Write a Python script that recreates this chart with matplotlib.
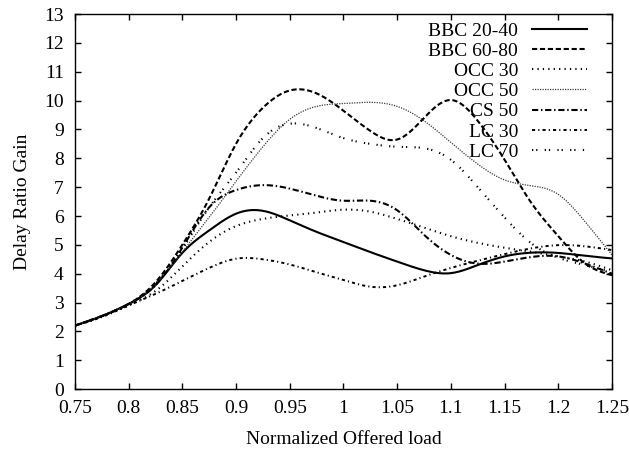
import numpy as np
import matplotlib
matplotlib.use("Agg")
import matplotlib.pyplot as plt

plt.rcParams['font.family'] = ['Liberation Serif', 'DejaVu Serif']

load = [0.75, 0.775, 0.8, 0.825, 0.85, 0.875, 0.9, 0.925, 0.95, 0.975, 1.0,
        1.025, 1.05, 1.075, 1.1, 1.125, 1.15, 1.175, 1.2, 1.225, 1.25]

bbc_20_40 = [2.2, 2.53, 2.95, 3.6, 4.72, 5.5, 6.08, 6.18, 5.85, 5.45, 5.1,
             4.75, 4.42, 4.12, 4.02, 4.3, 4.6, 4.73, 4.72, 4.62, 4.53]
bbc_60_80 = [2.2, 2.53, 2.95, 3.7, 5.0, 6.6, 8.5, 9.75, 10.35, 10.25, 9.65,
             8.95, 8.65, 9.4, 10.02, 9.3, 7.95, 6.45, 5.3, 4.35, 3.95]
occ_30 = [2.2, 2.5, 2.9, 3.4, 4.25, 5.1, 5.65, 5.9, 6.02, 6.12, 6.22,
          6.15, 5.9, 5.6, 5.3, 5.07, 4.9, 4.76, 4.6, 4.42, 4.12]
occ_50 = [2.2, 2.53, 2.95, 3.6, 4.75, 5.95, 7.2, 8.4, 9.35, 9.8, 9.9,
          9.94, 9.8, 9.3, 8.55, 7.8, 7.25, 7.05, 6.75, 5.8, 4.65]
cs_50 = [2.2, 2.53, 2.95, 3.6, 4.9, 6.3, 6.9, 7.07, 6.95, 6.7, 6.53,
         6.53, 6.2, 5.35, 4.65, 4.35, 4.42, 4.58, 4.6, 4.35, 4.0]
lc_30 = [2.2, 2.5, 2.9, 3.3, 3.75, 4.2, 4.52, 4.5, 4.32, 4.05, 3.78,
         3.55, 3.6, 3.9, 4.2, 4.45, 4.68, 4.88, 4.99, 4.95, 4.82]
lc_70 = [2.2, 2.53, 2.95, 3.65, 4.85, 6.3, 7.5, 8.7, 9.2, 9.05, 8.7,
         8.5, 8.4, 8.35, 7.95, 7.0, 5.95, 5.05, 4.55, 4.3, 4.05]

labels = ["BBC 20-40", "BBC 60-80", "OCC 30", "OCC 50", "CS 50", "LC 30", "LC 70"]
series = [bbc_20_40, bbc_60_80, occ_30, occ_50, cs_50, lc_30, lc_70]

xticks = [0.75, 0.8, 0.85, 0.9, 0.95, 1.0, 1.05, 1.1, 1.15, 1.2, 1.25]
xticklabels = ["0.75", "0.8", "0.85", "0.9", "0.95", "1", "1.05", "1.1", "1.15", "1.2", "1.25"]
yticks = list(range(0, 14))


def natural_spline(x, y, n=400):
    x = np.asarray(x, float)
    y = np.asarray(y, float)
    m = len(x)
    h = np.diff(x)
    A = np.zeros((m, m))
    b = np.zeros(m)
    A[0, 0] = 1
    A[-1, -1] = 1
    for i in range(1, m - 1):
        A[i, i - 1] = h[i - 1]
        A[i, i] = 2 * (h[i - 1] + h[i])
        A[i, i + 1] = h[i]
        b[i] = 3 * ((y[i + 1] - y[i]) / h[i] - (y[i] - y[i - 1]) / h[i - 1])
    c = np.linalg.solve(A, b)
    xs = np.linspace(x[0], x[-1], n)
    idx = np.clip(np.searchsorted(x, xs) - 1, 0, m - 2)
    dx = xs - x[idx]
    hi = h[idx]
    bcoef = (y[idx + 1] - y[idx]) / hi - hi * (2 * c[idx] + c[idx + 1]) / 3
    dcoef = (c[idx + 1] - c[idx]) / (3 * hi)
    ys = y[idx] + bcoef * dx + c[idx] * dx ** 2 + dcoef * dx ** 3
    return xs, ys


styles = [
    dict(color='black', lw=1.5, linestyle='-'),
    dict(color='black', lw=1.5, linestyle=(0, (2.5, 1.3))),
    dict(color='black', lw=1.5, linestyle=(0, (0.6, 2.0))),
    dict(color='#3a3a3a', lw=0.9, linestyle=(0, (1.0, 1.0))),
    dict(color='black', lw=1.5, linestyle=(0, (3.0, 1.3, 0.7, 1.3))),
    dict(color='black', lw=1.4, linestyle=(0, (1.6, 1.6, 0.6, 1.6))),
    dict(color='black', lw=1.5, linestyle=(0, (0.6, 1.4, 0.6, 3.5))),
]

fig = plt.figure(figsize=(6.29, 4.53), dpi=100)
ax = fig.add_axes([0.119, 0.141, 0.854, 0.828])

for lab, ys, st in zip(labels, series, styles):
    xs, ss = natural_spline(load, ys)
    ax.plot(xs, ss, label=lab, **st)

ax.set_xlim(0.75, 1.25)
ax.set_ylim(0, 13)
ax.set_xticks(xticks)
ax.set_xticklabels(xticklabels)
ax.set_yticks(yticks)
ax.tick_params(direction='in', length=4, width=1, top=True, right=True,
               labelsize=14, pad=8)
for s in ax.spines.values():
    s.set_linewidth(1.0)

ax.set_xlabel("Normalized Offered load", fontsize=14, labelpad=10)
ax.set_ylabel("Delay Ratio Gain", fontsize=14, labelpad=9)

leg = ax.legend(loc='upper right', bbox_to_anchor=(0.972, 1.004), frameon=False,
                markerfirst=False, fontsize=14, handlelength=2.85,
                handletextpad=0.7, labelspacing=0.13, borderpad=0.0)

fig.savefig("out.png", dpi=100)
